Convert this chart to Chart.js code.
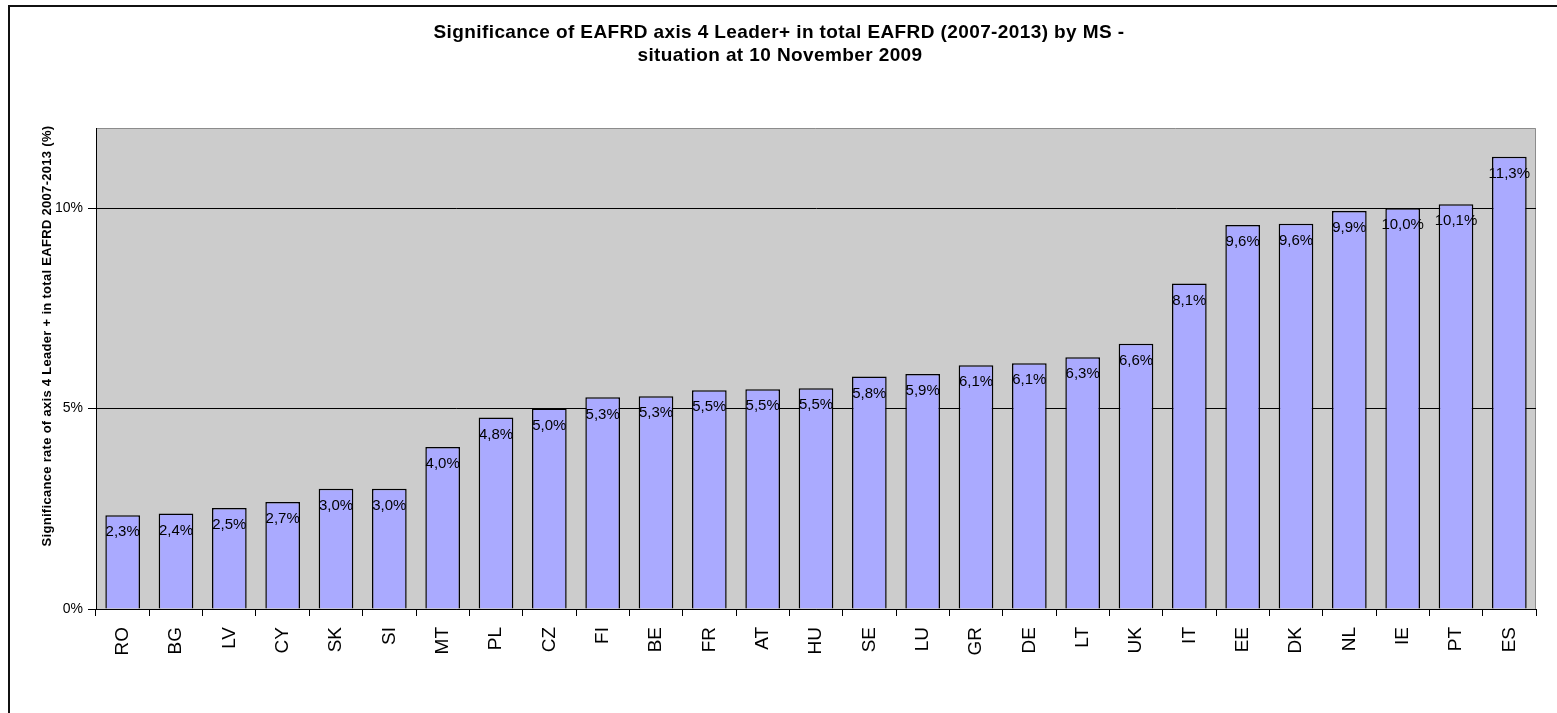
<!DOCTYPE html>
<html>
<head>
<meta charset="utf-8">
<script src="https://cdn.jsdelivr.net/npm/chart.js@4/dist/chart.umd.min.js"></script>
<style>
  html, body { margin: 0; padding: 0; background: #fff; overflow: hidden; }
  #frame { position: absolute; left: 8px; top: 5px; width: 1600px; height: 800px; border-left: 2px solid #111; border-top: 2px solid #111; }
  #chart { position: absolute; left: 0; top: 0; }
</style>
</head>
<body>
<div id="frame"></div>
<canvas id="chart" width="1557" height="713"></canvas>
<script>
const countries = ['RO', 'BG', 'LV', 'CY', 'SK', 'SI', 'MT', 'PL', 'CZ', 'FI', 'BE', 'FR', 'AT', 'HU', 'SE', 'LU', 'GR', 'DE', 'LT', 'UK', 'IT', 'EE', 'DK', 'NL', 'IE', 'PT', 'ES'];
const shares = [2.34, 2.38, 2.52, 2.67, 3.0, 3.0, 4.04, 4.78, 5.0, 5.28, 5.31, 5.46, 5.48, 5.51, 5.8, 5.86, 6.08, 6.13, 6.28, 6.62, 8.12, 9.58, 9.61, 9.93, 10.0, 10.1, 11.28];
const yTicks = [0, 5, 10];
const titleLines = ['Significance of EAFRD axis 4 Leader+ in total EAFRD (2007-2013) by MS -', 'situation at 10 November 2009'];
const yTitle = 'Significance rate of axis 4 Leader + in total EAFRD 2007-2013 (%)';

const FONT = '"Liberation Sans", Arial, sans-serif';

function pct(v) {
  return v.toFixed(1).replace('.', ',') + '%';
}

// grey plot background with thin grey top/right border
const plotBg = {
  id: 'plotBg',
  beforeDraw(chart) {
    const { ctx, chartArea: a } = chart;
    ctx.save();
    ctx.fillStyle = '#cccccc';
    ctx.fillRect(a.left, a.top, a.right - a.left, a.bottom - a.top);
    ctx.strokeStyle = '#8c8c8c';
    ctx.lineWidth = 1;
    ctx.beginPath();
    ctx.moveTo(a.left, a.top + 0.5);
    ctx.lineTo(a.right - 0.5, a.top + 0.5);
    ctx.lineTo(a.right - 0.5, a.bottom);
    ctx.stroke();
    ctx.restore();
  }
};

// titles and value labels
const texts = {
  id: 'texts',
  afterDatasetsDraw(chart) {
    const { ctx } = chart;
    ctx.save();
    ctx.fillStyle = '#000';
    ctx.font = '15px ' + FONT;
    ctx.textAlign = 'center';
    ctx.textBaseline = 'middle';
    chart.getDatasetMeta(0).data.forEach((bar, i) => {
      ctx.fillText(pct(shares[i]), bar.x, bar.y + 17);
    });

    ctx.font = 'bold 19px ' + FONT;
    ctx.letterSpacing = '0.4px';
    ctx.fillText(titleLines[0], 779, 33);
    ctx.fillText(titleLines[1], 780, 56);

    ctx.translate(47, 336);
    ctx.rotate(-Math.PI / 2);
    ctx.font = 'bold 13px ' + FONT;
    ctx.letterSpacing = '0.3px';
    ctx.fillText(yTitle, 0, 0);
    ctx.restore();
  }
};

new Chart(document.getElementById('chart'), {
  type: 'bar',
  data: {
    labels: countries,
    datasets: [{
      data: shares,
      backgroundColor: '#aaaaff',
      borderColor: '#000',
      borderWidth: 1.5,
      categoryPercentage: 1,
      barPercentage: 0.65
    }]
  },
  options: {
    responsive: false,
    animation: false,
    layout: { padding: { left: 0, top: 128, right: 21, bottom: 0 } },
    plugins: { legend: { display: false }, tooltip: { enabled: false } },
    scales: {
      x: {
        afterFit: s => { s.height = 104; },
        border: { color: '#000' },
        grid: { drawOnChartArea: false, color: '#000', tickLength: 7, offset: true },
        ticks: { color: '#000', minRotation: 90, maxRotation: 90, padding: 11, font: { family: FONT, size: 19 } }
      },
      y: {
        min: 0,
        max: 12,
        afterFit: s => { s.width = 96; },
        afterBuildTicks: s => { s.ticks = yTicks.map(v => ({ value: v })); },
        border: { color: '#000' },
        grid: { color: '#000', tickLength: 8 },
        ticks: { color: '#000', padding: 5, font: { family: FONT, size: 14 }, callback: v => v + '%' }
      }
    }
  },
  plugins: [plotBg, texts]
});
</script>
</body>
</html>
